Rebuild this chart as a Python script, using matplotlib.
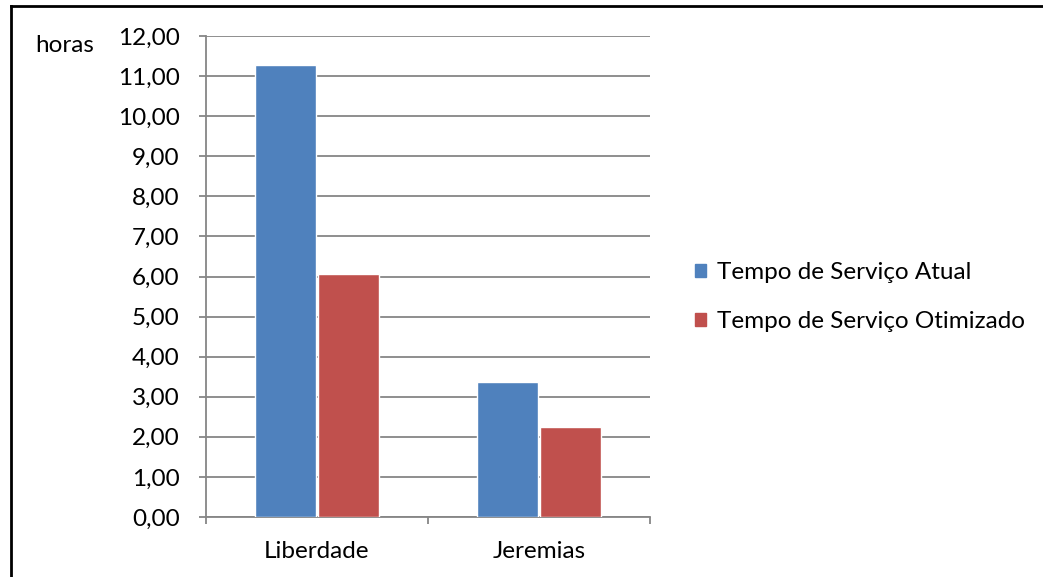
import matplotlib.pyplot as plt
from matplotlib.lines import Line2D
from matplotlib.patches import Patch

categorias = ['Liberdade', 'Jeremias']
atual = [11.27, 3.37]
otimizado = [6.06, 2.24]
series = ['Tempo de Serviço Atual', 'Tempo de Serviço Otimizado']
yticks = [0, 1, 2, 3, 4, 5, 6, 7, 8, 9, 10, 11, 12]

azul = '#4F81BD'
vermelho = '#C0504D'
cinza = '#868686'
fs = 17.5

plt.rcParams['font.family'] = ['Lato', 'DejaVu Sans']

fig = plt.figure(figsize=(10.43, 5.77), dpi=100)
ax = fig.add_axes([206/1043, 60/577, 444/1043, 481/577])

x = range(len(categorias))
w = 0.275
ax.bar([i - 0.14 for i in x], atual, w, color=azul, edgecolor='white', linewidth=1, zorder=3)
ax.bar([i + 0.14 for i in x], otimizado, w, color=vermelho, edgecolor='white', linewidth=1, zorder=3)

ax.set_xlim(-0.5, 1.5)
ax.set_ylim(0, 12)
ax.set_yticks(yticks)
ax.yaxis.set_major_formatter(plt.FuncFormatter(lambda v, p: ('%.2f' % v).replace('.', ',')))
ax.grid(axis='y', color=cinza, linewidth=1.3, zorder=0)

ax.set_xticks([-0.5, 0.5, 1.5])
ax.set_xticklabels(['', '', ''])
ax.set_xticks(list(x), minor=True)
ax.set_xticklabels(categorias, minor=True)
ax.tick_params(axis='x', which='major', length=5, width=1.3, color=cinza, direction='out')
ax.tick_params(axis='x', which='minor', length=0, pad=17, labelsize=fs)
ax.tick_params(axis='y', length=5, width=1.3, color=cinza, direction='out', pad=14, labelsize=fs)

for s in ['top', 'right']:
    ax.spines[s].set_visible(False)
for s in ['left', 'bottom']:
    ax.spines[s].set_color(cinza)
    ax.spines[s].set_linewidth(1.3)

fig.text(35/1043, 1 - 46/577, 'horas', fontsize=fs, va='center', ha='left')

handles = [Patch(color=azul), Patch(color=vermelho)]
fig.legend(handles, series, loc='center left', bbox_to_anchor=(673/1043, 1 - 297/577),
           frameon=False, fontsize=fs, handlelength=0.45, handleheight=0.45,
           handletextpad=0.45, labelspacing=1.15)

# moldura (esquerda e topo)
fig.add_artist(Line2D([11/1043, 11/1043], [0, 1 - 6/577], color='black', linewidth=2))
fig.add_artist(Line2D([11/1043, 1], [1 - 6/577, 1 - 6/577], color='black', linewidth=2))

fig.savefig('out.png', dpi=100)
